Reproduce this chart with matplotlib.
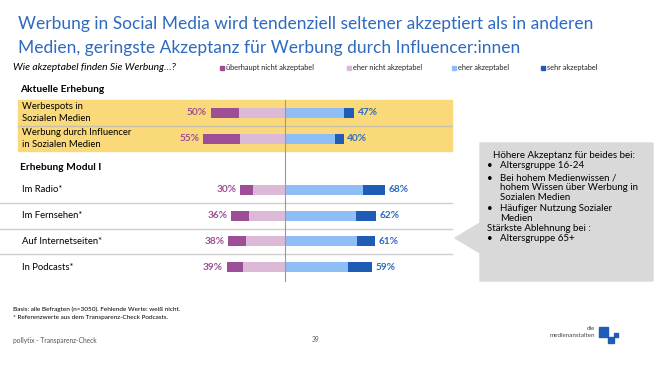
import matplotlib.pyplot as plt
from matplotlib.patches import Rectangle, Polygon

plt.rcParams['font.family'] = ['Lato', 'DejaVu Sans']

# Daten
titel_zeilen = ["Werbung in Social Media wird tendenziell seltener akzeptiert als in anderen",
                "Medien, geringste Akzeptanz für Werbung durch Influencer:innen"]
frage = "Wie akzeptabel finden Sie Werbung…?"
kategorien = ["überhaupt nicht akzeptabel", "eher nicht akzeptabel",
              "eher akzeptabel", "sehr akzeptabel"]

aktuell_labels = ["Werbespots in\nSozialen Medien", "Werbung durch Influencer\nin Sozialen Medien"]
aktuell_ueberhaupt_nicht = [19, 25]
aktuell_eher_nicht = [31, 30]
aktuell_eher = [40, 34]
aktuell_sehr = [7, 6]

modul_labels = ["Im Radio*", "Im Fernsehen*", "Auf Internetseiten*", "In Podcasts*"]
modul_ueberhaupt_nicht = [9, 12, 12, 11]
modul_eher_nicht = [21, 24, 26, 28]
modul_eher = [53, 48, 49, 43]
modul_sehr = [15, 14, 12, 16]

callout_zeilen = [("", "Höhere Akzeptanz für beides bei:"),
                  ("•", "Altersgruppe 16-24"),
                  ("•", "Bei hohem Medienwissen /"),
                  ("", "hohem Wissen über Werbung in"),
                  ("", "Sozialen Medien"),
                  ("•", "Häufiger Nutzung Sozialer"),
                  ("", "Medien"),
                  ("-", "Stärkste Ablehnung bei :"),
                  ("•", "Altersgruppe 65+")]

farben = ['#9c4f95', '#dcb9d7', '#8fbdf6', '#1f5cb6']
lila = '#9c4f95'
blau = '#2e6ac0'

W, H = 660, 365
fig = plt.figure(figsize=(W / 100, H / 100), dpi=100)

# Hintergrund-Achse in Pixelkoordinaten
bg = fig.add_axes([0, 0, 1, 1])
bg.set_xlim(0, W)
bg.set_ylim(H, 0)
bg.axis('off')

for y, z in zip([28.5, 53.5], titel_zeilen):
    bg.text(18, y, z, color=blau, fontsize=12.55, va='baseline')
bg.text(13, 68, frage, fontsize=7.4, style='italic', va='center')
leg_x = [220, 347, 452, 541]
for x, k, f in zip(leg_x, kategorien, farben):
    bg.add_patch(Rectangle((x, 65.5), 4, 4, color=f))
    bg.text(x + 6, 67.5, k, fontsize=5.3, va='center', color='#222222')

# Gelbe Box und Trennlinien
bg.add_patch(Rectangle((18, 100), 434, 51, color='#fad97a', zorder=0))
bg.plot([18, 452], [125.5, 125.5], color='#c8c0a8', lw=1, zorder=1)
for y in [202.5, 228.5, 253.5]:
    bg.plot([0, 452], [y, y], color='#cfcfcf', lw=1, zorder=1)

bg.text(20, 89, "Aktuelle Erhebung", fontsize=7.3, fontweight='bold', va='center')
bg.text(20, 167, "Erhebung Modul I", fontsize=7.3, fontweight='bold', va='center')

y_aktuell = [112.5, 138.5]
y_modul = [190, 215.5, 241, 267]
for y, l in zip(y_aktuell, aktuell_labels):
    bg.text(22, y, l, fontsize=6.8, va='center', linespacing=1.35)
for y, l in zip(y_modul, modul_labels):
    bg.text(22, y, l, fontsize=6.8, va='center')

# Callout
bg.add_patch(Polygon([(480, 143), (653, 143), (653, 281), (480, 281),
                      (480, 253), (455, 238), (480, 223)],
                     closed=True, color='#d9d9d9', zorder=0))
callout_y = [155, 165.5, 178, 187.5, 197, 208.5, 218.5, 228.5, 238.5]
for y, (b, t) in zip(callout_y, callout_zeilen):
    if b == "":
        bg.text(500 if t[0].islower() or t.startswith("Sozialen") or t == "Medien" else 493,
                y, t, fontsize=7.0, va='center')
    elif b == "-":
        bg.text(487, y, t, fontsize=7.0, va='center')
    else:
        bg.text(487, y, b, fontsize=7.0, va='center')
        bg.text(500, y, t, fontsize=7.0, va='center')

# Fusszeile
bg.text(13, 309, "Basis: alle Befragten (n=3050). Fehlende Werte: weiß nicht.",
        fontsize=4.6, va='center')
bg.text(13, 317, "* Referenzwerte aus dem Transparenz-Check Podcasts.",
        fontsize=4.6, va='center')
bg.text(13, 340, "pollytix - Transparenz-Check", fontsize=4.8, va='center', color='#555555')
bg.text(312, 340, "39", fontsize=4.8, va='center', color='#555555')
bg.text(595, 329, "die", fontsize=4.5, ha='right', va='center', color='#444444')
bg.text(595, 335.5, "medienanstalten", fontsize=4.5, ha='right', va='center', color='#444444')
bg.add_patch(Rectangle((599, 327), 9, 10, color='#1f5cb6'))
bg.add_patch(Rectangle((608, 337), 6, 6, color='#1f5cb6'))
bg.add_patch(Rectangle((614, 333), 4, 4, color='#1f5cb6'))

# Balken-Achse: x in Prozent, y in Pixeln
px_pro_proz = 1.48
mitte = 284.5
ax_l, ax_r = 150, 430
ax = fig.add_axes([ax_l / W, 0, (ax_r - ax_l) / W, 1])
ax.set_xlim(-(mitte - ax_l) / px_pro_proz, (ax_r - mitte) / px_pro_proz)
ax.set_ylim(H, 0)
ax.axis('off')
ax.patch.set_alpha(0)

ax.plot([0, 0], [100, 281], color='#999999', lw=0.8, zorder=3)

def zeichne(ys, un, en, ea, sa):
    for y, a, b, c, d in zip(ys, un, en, ea, sa):
        h = 10
        ax.barh(y, -b, height=h, color=farben[1], zorder=2)
        ax.barh(y, -a, left=-b, height=h, color=farben[0], zorder=2)
        ax.barh(y, c, height=h, color=farben[2], zorder=2)
        ax.barh(y, d, left=c, height=h, color=farben[3], zorder=2)
        ax.text(-(a + b) - 2.5, y, f"{a + b}%", ha='right', va='center',
                color=lila, fontsize=7.3, fontweight='bold')
        ax.text(c + d + 2.5, y, f"{c + d}%", ha='left', va='center',
                color=blau, fontsize=7.3, fontweight='bold')

zeichne(y_aktuell, aktuell_ueberhaupt_nicht, aktuell_eher_nicht, aktuell_eher, aktuell_sehr)
zeichne(y_modul, modul_ueberhaupt_nicht, modul_eher_nicht, modul_eher, modul_sehr)

fig.savefig('out.png', dpi=100)
